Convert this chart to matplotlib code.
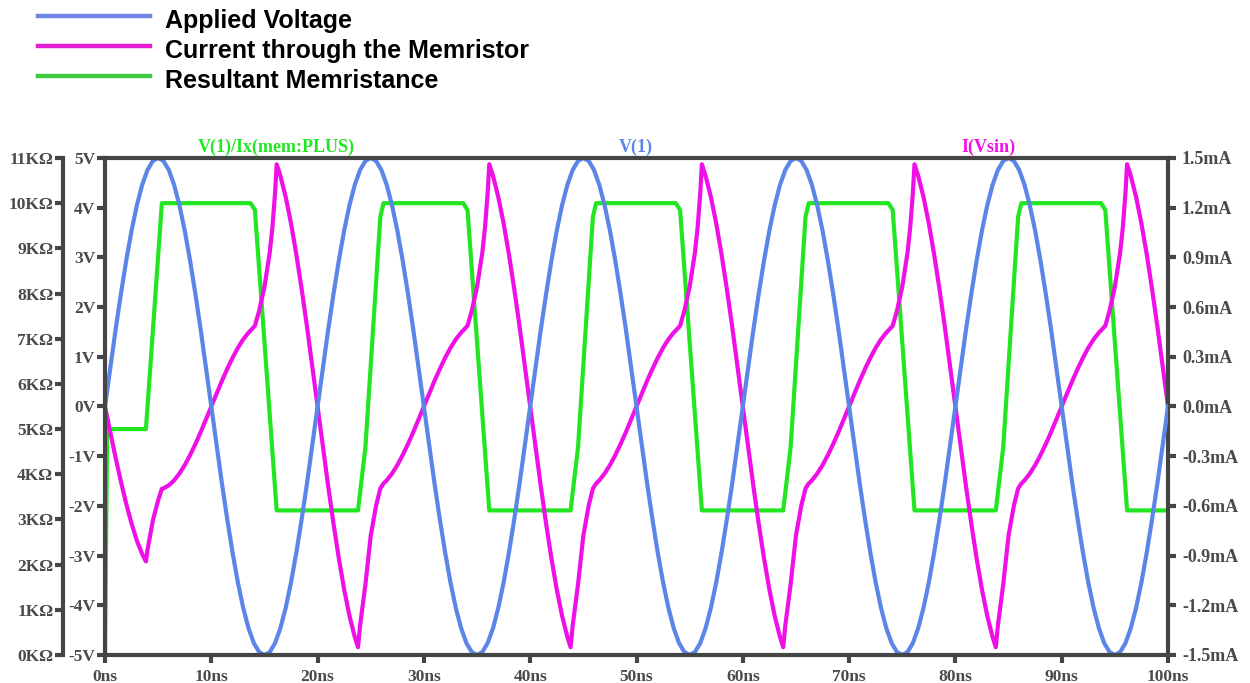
import numpy as np
import matplotlib
matplotlib.use("Agg")
import matplotlib.pyplot as plt

# ---------------- data ----------------
# Applied voltage V(1), sampled every 0.5 ns from 0 to 100 ns
v_time_ns = np.linspace(0, 100, 201)
v_volts = [
    0, 0.78, 1.55, 2.27, 2.94, 3.54, 4.05, 4.46, 4.76, 4.94, 5, 4.94, 4.76, 4.46, 4.05, 3.54, 2.94, 2.27, 1.55, 0.78,
    0, -0.78, -1.55, -2.27, -2.94, -3.54, -4.05, -4.46, -4.76, -4.94, -5, -4.94, -4.76, -4.46, -4.05, -3.54, -2.94, -2.27, -1.55, -0.78,
    0, 0.78, 1.55, 2.27, 2.94, 3.54, 4.05, 4.46, 4.76, 4.94, 5, 4.94, 4.76, 4.46, 4.05, 3.54, 2.94, 2.27, 1.55, 0.78,
    0, -0.78, -1.55, -2.27, -2.94, -3.54, -4.05, -4.46, -4.76, -4.94, -5, -4.94, -4.76, -4.46, -4.05, -3.54, -2.94, -2.27, -1.55, -0.78,
    0, 0.78, 1.55, 2.27, 2.94, 3.54, 4.05, 4.46, 4.76, 4.94, 5, 4.94, 4.76, 4.46, 4.05, 3.54, 2.94, 2.27, 1.55, 0.78,
    0, -0.78, -1.55, -2.27, -2.94, -3.54, -4.05, -4.46, -4.76, -4.94, -5, -4.94, -4.76, -4.46, -4.05, -3.54, -2.94, -2.27, -1.55, -0.78,
    0, 0.78, 1.55, 2.27, 2.94, 3.54, 4.05, 4.46, 4.76, 4.94, 5, 4.94, 4.76, 4.46, 4.05, 3.54, 2.94, 2.27, 1.55, 0.78,
    0, -0.78, -1.55, -2.27, -2.94, -3.54, -4.05, -4.46, -4.76, -4.94, -5, -4.94, -4.76, -4.46, -4.05, -3.54, -2.94, -2.27, -1.55, -0.78,
    0, 0.78, 1.55, 2.27, 2.94, 3.54, 4.05, 4.46, 4.76, 4.94, 5, 4.94, 4.76, 4.46, 4.05, 3.54, 2.94, 2.27, 1.55, 0.78,
    0, -0.78, -1.55, -2.27, -2.94, -3.54, -4.05, -4.46, -4.76, -4.94, -5, -4.94, -4.76, -4.46, -4.05, -3.54, -2.94, -2.27, -1.55, -0.78,
    0,
]

# Resultant memristance V(1)/Ix(mem:PLUS), breakpoints in kOhm
r_time_ns = [0, 0.2, 3.85, 5.35,
             13.7, 14.1, 16.15, 23.8, 24.5, 25.9, 26.2,
             33.7, 34.1, 36.15, 43.8, 44.5, 45.9, 46.2,
             53.7, 54.1, 56.15, 63.8, 64.5, 65.9, 66.2,
             73.7, 74.1, 76.15, 83.8, 84.5, 85.9, 86.2,
             93.7, 94.1, 96.15, 100]
r_kohm = [0, 5.0, 5.0, 10.0,
          10.0, 9.85, 3.2, 3.2, 4.6, 9.7, 10.0,
          10.0, 9.85, 3.2, 3.2, 4.6, 9.7, 10.0,
          10.0, 9.85, 3.2, 3.2, 4.6, 9.7, 10.0,
          10.0, 9.85, 3.2, 3.2, 4.6, 9.7, 10.0,
          10.0, 9.85, 3.2, 3.2]

# Current through the memristor I(Vsin), in mA
i_time_ns = [
    0, 0.2, 0.5, 1.0, 1.5, 2.0, 2.5, 3.0, 3.5, 3.85, 4.0, 4.5, 5.0, 5.35, 5.5, 6.0, 6.5, 7.0, 7.5, 8.0,
    8.5, 9.0, 9.5, 10.0, 10.5, 11.0, 11.5, 12.0, 12.5, 13.0, 13.5, 13.7, 14.1, 14.5, 15.0, 15.5, 15.75, 16.0,
    16.15, 16.5, 17, 17.5, 18, 18.5, 19, 19.5, 20, 20.5, 21, 21.5, 22, 22.5, 23, 23.5, 23.8, 24, 24.5, 25, 25.5, 25.9,
    26.2, 26.5, 27, 27.5, 28, 28.5, 29, 29.5, 30, 30.5, 31, 31.5, 32, 32.5, 33, 33.5, 33.7, 34.1, 34.5, 35, 35.5, 35.75, 36.0,
    36.15, 36.5, 37, 37.5, 38, 38.5, 39, 39.5, 40, 40.5, 41, 41.5, 42, 42.5, 43, 43.5, 43.8, 44, 44.5, 45, 45.5, 45.9,
    46.2, 46.5, 47, 47.5, 48, 48.5, 49, 49.5, 50, 50.5, 51, 51.5, 52, 52.5, 53, 53.5, 53.7, 54.1, 54.5, 55, 55.5, 55.75, 56.0,
    56.15, 56.5, 57, 57.5, 58, 58.5, 59, 59.5, 60, 60.5, 61, 61.5, 62, 62.5, 63, 63.5, 63.8, 64, 64.5, 65, 65.5, 65.9,
    66.2, 66.5, 67, 67.5, 68, 68.5, 69, 69.5, 70, 70.5, 71, 71.5, 72, 72.5, 73, 73.5, 73.7, 74.1, 74.5, 75, 75.5, 75.75, 76.0,
    76.15, 76.5, 77, 77.5, 78, 78.5, 79, 79.5, 80, 80.5, 81, 81.5, 82, 82.5, 83, 83.5, 83.8, 84, 84.5, 85, 85.5, 85.9,
    86.2, 86.5, 87, 87.5, 88, 88.5, 89, 89.5, 90, 90.5, 91, 91.5, 92, 92.5, 93, 93.5, 93.7, 94.1, 94.5, 95, 95.5, 95.75, 96.0,
    96.15, 96.5, 97, 97.5, 98, 98.5, 99, 99.5, 100,
]
i_ma = [
    0, -0.063, -0.156, -0.31, -0.454, -0.588, -0.707, -0.81, -0.891, -0.935, -0.865, -0.689, -0.566, -0.497, -0.494, -0.476, -0.446, -0.405, -0.354, -0.294,
    -0.227, -0.155, -0.078, 0, 0.078, 0.155, 0.227, 0.294, 0.354, 0.405, 0.446, 0.459, 0.487, 0.577, 0.722, 0.930, 1.081, 1.290,
    1.462, 1.392, 1.264, 1.105, 0.918, 0.709, 0.483, 0.244, 0, -0.244, -0.483, -0.709, -0.918, -1.105, -1.264, -1.392, -1.453, -1.321, -1.073, -0.779, -0.599, -0.495,
    -0.465, -0.446, -0.405, -0.354, -0.294, -0.227, -0.155, -0.078, 0, 0.078, 0.155, 0.227, 0.294, 0.354, 0.405, 0.446, 0.459, 0.487, 0.577, 0.722, 0.930, 1.081, 1.290,
    1.462, 1.392, 1.264, 1.105, 0.918, 0.709, 0.483, 0.244, 0, -0.244, -0.483, -0.709, -0.918, -1.105, -1.264, -1.392, -1.453, -1.321, -1.073, -0.779, -0.599, -0.495,
    -0.465, -0.446, -0.405, -0.354, -0.294, -0.227, -0.155, -0.078, 0, 0.078, 0.155, 0.227, 0.294, 0.354, 0.405, 0.446, 0.459, 0.487, 0.577, 0.722, 0.930, 1.081, 1.290,
    1.462, 1.392, 1.264, 1.105, 0.918, 0.709, 0.483, 0.244, 0, -0.244, -0.483, -0.709, -0.918, -1.105, -1.264, -1.392, -1.453, -1.321, -1.073, -0.779, -0.599, -0.495,
    -0.465, -0.446, -0.405, -0.354, -0.294, -0.227, -0.155, -0.078, 0, 0.078, 0.155, 0.227, 0.294, 0.354, 0.405, 0.446, 0.459, 0.487, 0.577, 0.722, 0.930, 1.081, 1.290,
    1.462, 1.392, 1.264, 1.105, 0.918, 0.709, 0.483, 0.244, 0, -0.244, -0.483, -0.709, -0.918, -1.105, -1.264, -1.392, -1.453, -1.321, -1.073, -0.779, -0.599, -0.495,
    -0.465, -0.446, -0.405, -0.354, -0.294, -0.227, -0.155, -0.078, 0, 0.078, 0.155, 0.227, 0.294, 0.354, 0.405, 0.446, 0.459, 0.487, 0.577, 0.722, 0.930, 1.081, 1.290,
    1.462, 1.392, 1.264, 1.105, 0.918, 0.709, 0.483, 0.244, 0,
]

# axis ticks / labels
x_ticks = [0, 10, 20, 30, 40, 50, 60, 70, 80, 90, 100]
x_labels = ["0ns", "10ns", "20ns", "30ns", "40ns", "50ns", "60ns", "70ns", "80ns", "90ns", "100ns"]
v_ticks = [5, 4, 3, 2, 1, 0, -1, -2, -3, -4, -5]
v_labels = ["5V", "4V", "3V", "2V", "1V", "0V", "-1V", "-2V", "-3V", "-4V", "-5V"]
k_ticks = [11, 10, 9, 8, 7, 6, 5, 4, 3, 2, 1, 0]
k_labels = ["11KΩ", "10KΩ", "9KΩ", "8KΩ", "7KΩ", "6KΩ", "5KΩ", "4KΩ", "3KΩ", "2KΩ", "1KΩ", "0KΩ"]
i_ticks = [1.5, 1.2, 0.9, 0.6, 0.3, 0.0, -0.3, -0.6, -0.9, -1.2, -1.5]
i_labels = ["1.5mA", "1.2mA", "0.9mA", "0.6mA", "0.3mA", "0.0mA", "-0.3mA", "-0.6mA", "-0.9mA", "-1.2mA", "-1.5mA"]

legend_labels = ["Applied Voltage", "Current through the Memristor", "Resultant Memristance"]
trace_names = ["V(1)/Ix(mem:PLUS)", "V(1)", "I(Vsin)"]

# ---------------- styling ----------------
C_BLUE = "#5b86e8"
C_MAG = "#ee10e6"
C_GREEN = "#22e622"
LEG_COLORS = ["#6f86e2", "#e61ed2", "#40c840"]
FRAME = "#454545"
TXT = "#4a4a4a"

plt.rcParams["font.family"] = ["Liberation Serif", "DejaVu Serif"]
plt.rcParams["font.weight"] = "bold"

fig = plt.figure(figsize=(12.5, 6.83), dpi=100)
fig.patch.set_facecolor("white")

ax = fig.add_axes([0.084, 0.041, 0.8504, 0.7277])
ax_k = ax.twinx()
ax_r = ax.twinx()
ax_k.set_zorder(1)
ax_r.set_zorder(2)
ax.set_zorder(3)
ax.patch.set_visible(False)

LW = 3.0
ax_k.plot(r_time_ns, r_kohm, color=C_GREEN, lw=LW, solid_joinstyle="round")
ax_r.plot(i_time_ns, i_ma, color=C_MAG, lw=LW, solid_joinstyle="round")
ax.plot(v_time_ns, v_volts, color=C_BLUE, lw=LW, solid_joinstyle="round")

ax.set_xlim(0, 100)
ax.set_ylim(-5, 5)
ax_k.set_ylim(0, 11)
ax_r.set_ylim(-1.5, 1.5)

# main frame
for side in ["left", "top", "bottom"]:
    ax.spines[side].set_linewidth(3)
    ax.spines[side].set_color(FRAME)
ax.spines["right"].set_visible(False)

ax.set_xticks(x_ticks)
ax.set_xticklabels(x_labels)
ax.set_yticks(v_ticks)
ax.set_yticklabels(v_labels)
ax.tick_params(axis="both", direction="out", length=6, width=3, color=FRAME,
               labelsize=12.5, labelcolor=TXT)
ax.tick_params(axis="y", pad=1)
ax.tick_params(axis="x", pad=4)

# kOhm axis (outer left)
for side in ["right", "top", "bottom"]:
    ax_k.spines[side].set_visible(False)
ax_k.spines["left"].set_visible(True)
ax_k.spines["left"].set_position(("axes", -0.0395))
ax_k.spines["left"].set_linewidth(3)
ax_k.spines["left"].set_color(FRAME)
ax_k.yaxis.set_ticks_position("left")
ax_k.yaxis.set_label_position("left")
ax_k.set_yticks(k_ticks)
ax_k.set_yticklabels(k_labels)
ax_k.tick_params(axis="y", direction="out", length=6, width=3, color=FRAME,
                 labelsize=12.5, labelcolor=TXT, pad=1)

# mA axis (right)
for side in ["left", "top", "bottom"]:
    ax_r.spines[side].set_visible(False)
ax_r.spines["right"].set_linewidth(3)
ax_r.spines["right"].set_color(FRAME)
ax_r.set_yticks(i_ticks)
ax_r.set_yticklabels(i_labels)
ax_r.tick_params(axis="y", direction="out", length=6, width=3, color=FRAME,
                 labelsize=13, labelcolor=TXT, pad=4)

# trace names above plot
trace_x = [276 / 1250, 636 / 1250, 988 / 1250]
trace_colors = [C_GREEN, C_BLUE, C_MAG]
for name, xx, cc in zip(trace_names, trace_x, trace_colors):
    fig.text(xx, 1 - 147 / 683, name, color=cc, fontsize=13, ha="center", va="center",
             fontweight="bold")

# legend at top-left
leg_y = [16, 46, 76]
for lab, yy, cc in zip(legend_labels, leg_y, LEG_COLORS):
    yf = 1 - yy / 683
    fig.add_artist(plt.Line2D([38 / 1250, 150 / 1250], [yf, yf], color=cc, lw=3.2,
                              transform=fig.transFigure))
    fig.text(165 / 1250, 1 - (yy + 5) / 683, lab, color="black", fontsize=18,
             ha="left", va="center", family=["Liberation Sans", "DejaVu Sans"],
             fontweight="bold")

fig.savefig("out.png", dpi=100, facecolor="white")
